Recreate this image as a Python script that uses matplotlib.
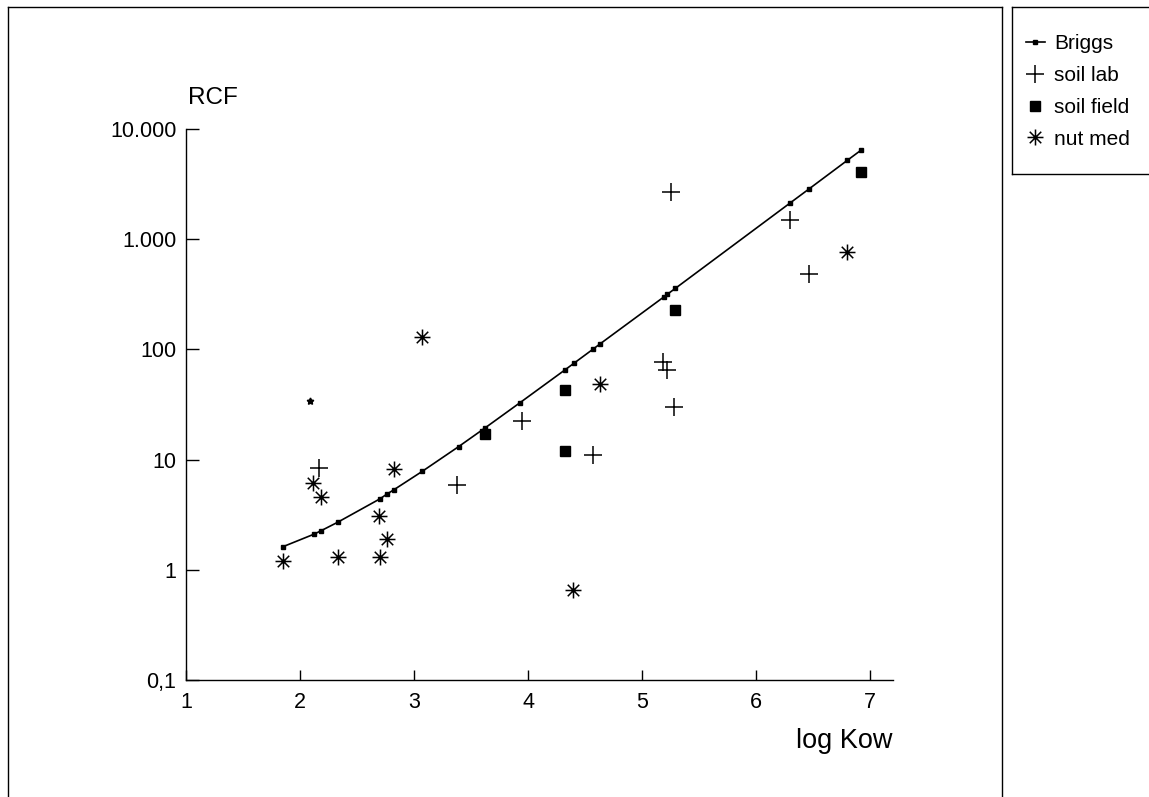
import numpy as np
import matplotlib
matplotlib.use('Agg')
import matplotlib.pyplot as plt
from matplotlib.path import Path
from matplotlib.lines import Line2D
from matplotlib.ticker import FixedLocator, NullLocator

plt.rcParams['font.family'] = ['Liberation Sans', 'DejaVu Sans']

# Briggs curve (log Kow, RCF)
briggs_x = [1.85, 2.12, 2.18, 2.33, 2.70, 2.76, 2.82, 3.07, 3.39, 3.62, 3.93,
            4.32, 4.40, 4.57, 4.63, 5.19, 5.22, 5.29, 6.30, 6.46, 6.80, 6.92]
briggs_y = [1.62, 2.1, 2.25, 2.7, 4.4, 4.85, 5.3, 7.8, 13.1, 19.3, 32.9,
            64.8, 74.6, 100.6, 112, 299, 316, 357, 2140, 2840, 5200, 6430]

# soil lab
lab_x = [2.17, 3.38, 3.95, 4.57, 5.18, 5.22, 5.25, 5.28, 6.30, 6.46]
lab_y = [8.4, 5.9, 22.5, 11, 77, 65, 2700, 30, 1480, 480]

# soil field
field_x = [3.62, 4.32, 4.32, 5.29, 6.92]
field_y = [17, 43, 12, 226, 4050]

# nut med
nut_x = [1.85, 2.11, 2.18, 2.33, 2.69, 2.70, 2.76, 2.82, 3.07, 4.39, 4.63, 6.80]
nut_y = [1.2, 6.1, 4.6, 1.3, 3.1, 1.3, 1.9, 8.3, 129, 0.66, 49, 760]

# stray mark
odd_x = [2.09]
odd_y = [34]

x_ticks = [1, 2, 3, 4, 5, 6, 7]
y_ticks = [0.1, 1, 10, 100, 1000, 10000]
y_tick_labels = ['0,1', '1', '10', '100', '1.000', '10.000']

W, H = 1149, 797

# 8-arm asterisk marker
star = Path([(0, -1), (0, 1), (-1, 0), (1, 0),
             (-.72, -.72), (.72, .72), (-.72, .72), (.72, -.72)],
            [Path.MOVETO, Path.LINETO] * 4)

fig = plt.figure(figsize=(W / 100, H / 100), dpi=100)
ax = fig.add_axes([186 / W, 117 / H, 707 / W, 551 / H])

ax.plot(briggs_x, briggs_y, color='black', lw=1.2, marker='s', ms=2.6, label='Briggs')
ax.plot(lab_x, lab_y, ls='none', marker='+', ms=13, mew=1.1, color='black', label='soil lab')
ax.plot(field_x, field_y, ls='none', marker='s', ms=6.5, color='black', label='soil field')
ax.plot(nut_x, nut_y, ls='none', marker=star, ms=11.5, mew=1.1, color='black',
        mfc='none', label='nut med')
ax.plot(odd_x, odd_y, ls='none', marker=(5, 1, 0), ms=5, color='black')

ax.set_yscale('log')
ax.set_xlim(1, 7.2)
ax.set_ylim(0.1, 10000)
ax.xaxis.set_major_locator(FixedLocator(x_ticks))
ax.set_xticklabels([str(t) for t in x_ticks])
ax.yaxis.set_major_locator(FixedLocator(y_ticks))
ax.yaxis.set_minor_locator(NullLocator())
ax.set_yticklabels(y_tick_labels)

for s in ['top', 'right']:
    ax.spines[s].set_visible(False)
for s in ['left', 'bottom']:
    ax.spines[s].set_linewidth(1.0)
ax.tick_params(axis='y', direction='in', length=9.5, width=1, pad=7, labelsize=15.5)
ax.tick_params(axis='x', direction='in', length=7, width=1, pad=9, labelsize=15.5)

fig.text(188 / W, 1 - 98 / H, 'RCF', fontsize=17.5, ha='left', va='center')
fig.text(892 / W, 1 - 748 / H, 'log Kow', fontsize=19.5, ha='right', va='baseline')

# outer frame and legend box
def fline(xs, ys):
    fig.add_artist(Line2D([x / W for x in xs], [1 - y / H for y in ys],
                          color='black', lw=1.0))

fline([8, 1002], [7, 7])
fline([8, 8], [7, 797])
fline([1002, 1002], [7, 797])
fline([1012, 1149], [7, 7])
fline([1012, 1012], [7, 174])
fline([1012, 1149], [174, 174])

handles, labels = ax.get_legend_handles_labels()
fig.legend(handles, labels, loc='upper left', bbox_to_anchor=(1026 / W, 1 - 34 / H),
           frameon=False, fontsize=15, handlelength=0.9, handletextpad=0.45,
           labelspacing=0.62, borderaxespad=0, borderpad=0)

fig.savefig('out.png', dpi=100)
